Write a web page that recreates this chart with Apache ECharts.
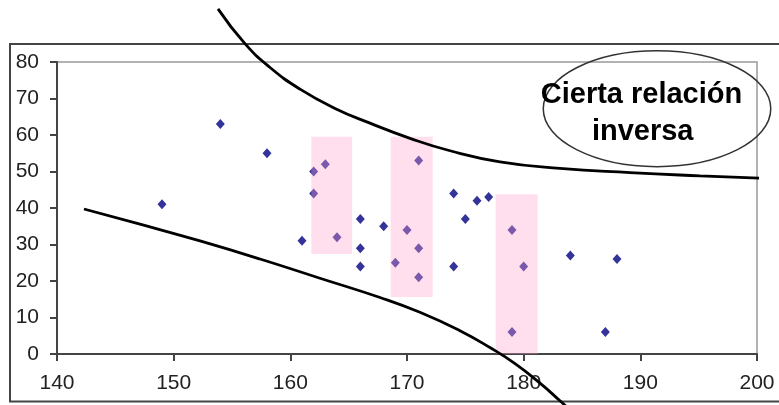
<!DOCTYPE html>
<html>
<head>
<meta charset="utf-8">
<script src="https://cdn.jsdelivr.net/npm/echarts@6/dist/echarts.min.js"></script>
<style>
html,body{margin:0;padding:0;background:#fff;}
#chart{width:779px;height:405px;}
</style>
</head>
<body>
<div id="chart"></div>
<script>
// Scatter data
var xValues = [149,154,158,161,162,162,163,164,166,166,166,168,169,170,171,171,171,174,174,175,176,177,179,179,180,184,187,188];
var yValues = [41,63,55,31,50,44,52,32,37,29,24,35,25,34,53,29,21,44,24,37,42,43,34,6,24,27,6,26];

// Highlight rectangles [xFrom, xTo, yFrom, yTo]
var rectX1 = [161.8, 168.6, 177.6];
var rectX2 = [165.3, 172.2, 181.2];
var rectY1 = [27.4, 15.6, 0];
var rectY2 = [59.5, 59.5, 43.8];

// Hand-drawn curves (data coordinates)
var upperCurveX = [153.80,156.11,158.26,160.83,163.83,166.83,170.26,173.69,177.97,183.11,189.11,195.11,201.37];
var upperCurveY = [94.55,85.02,78.49,72.56,67.29,63.25,59.08,55.68,52.66,50.84,49.69,48.81,48.02];
var lowerCurveX = [142.31,147.11,152.26,157.40,162.54,167.69,171.11,174.54,177.11,179.26,181.40,183.11,184.83];
var lowerCurveY = [39.73,35.58,30.97,26.03,20.76,15.48,11.42,6.37,1.76,-2.64,-7.99,-12.82,-17.87];

// Axis ticks
var xTicks = [140,150,160,170,180,190,200];
var yTicks = [0,10,20,30,40,50,60,70,80];

// Annotation
var noteLines = ['Cierta relación', 'inversa'];
var noteCenter = [191.43, 67.2];
var noteRadius = [9.75, 15.87];
var noteLineX = [190.1, 190.2];
var noteLineY = [70.9, 60.8];

var chart = echarts.init(document.getElementById('chart'));

var scatterData = xValues.map(function(x, i){ return [x, yValues[i]]; });
var rectData = rectX1.map(function(x, i){ return [x, rectX2[i], rectY1[i], rectY2[i]]; });
var upperData = upperCurveX.map(function(x, i){ return [x, upperCurveY[i]]; });
var lowerData = lowerCurveX.map(function(x, i){ return [x, lowerCurveY[i]]; });

var labelFont = {fontFamily: 'Liberation Sans, Arial, sans-serif', fontSize: 21, color: '#222'};

chart.setOption({
  animation: false,
  backgroundColor: '#fff',
  grid: {left: 57, top: 62, right: 22, bottom: 51, show: true, borderColor: '#999', borderWidth: 1.5, containLabel: false},
  xAxis: {
    type: 'value', min: xTicks[0], max: xTicks[xTicks.length-1], interval: 10,
    axisLine: {show: true, onZero: false, lineStyle: {color: '#444', width: 2}},
    axisTick: {show: true, inside: false, length: 7, lineStyle: {color: '#444', width: 2}},
    axisLabel: Object.assign({margin: 19}, labelFont),
    splitLine: {show: false}
  },
  yAxis: {
    type: 'value', min: yTicks[0], max: yTicks[yTicks.length-1], interval: 10,
    axisLine: {show: true, onZero: false, lineStyle: {color: '#444', width: 2}},
    axisTick: {show: true, inside: false, length: 7, lineStyle: {color: '#444', width: 2}},
    axisLabel: Object.assign({margin: 18}, labelFont),
    splitLine: {show: false}
  },
  series: [
    {
      type: 'scatter', data: scatterData, symbol: 'diamond', symbolSize: [9, 10],
      itemStyle: {color: '#000080'}, z: 2
    },
    {
      type: 'custom', data: rectData, z: 3, silent: true,
      renderItem: function(params, api){
        var p1 = api.coord([api.value(0), api.value(3)]);
        var p2 = api.coord([api.value(1), api.value(2)]);
        return {type: 'rect', shape: {x: p1[0], y: p1[1], width: p2[0]-p1[0], height: p2[1]-p1[1]},
          style: {fill: 'rgba(255,161,206,0.35)'}};
      },
      encode: {x: [0, 1], y: [2, 3]}
    },
    {
      type: 'line', data: upperData, smooth: 0.5, clip: false, symbol: 'none', z: 4,
      lineStyle: {color: '#000', width: 2.8}
    },
    {
      type: 'line', data: lowerData, smooth: 0.5, clip: false, symbol: 'none', z: 4,
      lineStyle: {color: '#000', width: 2.8}
    }
  ]
});

var c = chart.convertToPixel({gridIndex: 0}, noteCenter);
var e = chart.convertToPixel({gridIndex: 0}, [noteCenter[0] + noteRadius[0], noteCenter[1] + noteRadius[1]]);
var t1 = chart.convertToPixel({gridIndex: 0}, [noteLineX[0], noteLineY[0]]);
var t2 = chart.convertToPixel({gridIndex: 0}, [noteLineX[1], noteLineY[1]]);
var noteFont = {fontFamily: 'Liberation Sans, Arial, sans-serif', fontSize: 29, fontWeight: 'bold', fill: '#000', align: 'center', verticalAlign: 'middle'};

chart.setOption({
  graphic: [
    {type: 'rect', shape: {x: 10, y: 44, width: 800, height: 357.5}, style: {fill: 'none', stroke: '#444', lineWidth: 2}, z: 0, silent: true},
    {type: 'ellipse', shape: {cx: c[0], cy: c[1], rx: e[0]-c[0], ry: c[1]-e[1]}, style: {fill: 'none', stroke: '#333', lineWidth: 1.5}, z: 10, silent: true},
    {type: 'text', x: t1[0], y: t1[1], style: Object.assign({text: noteLines[0]}, noteFont), z: 11, silent: true},
    {type: 'text', x: t2[0], y: t2[1], style: Object.assign({text: noteLines[1]}, noteFont), z: 11, silent: true}
  ]
});
</script>
</body>
</html>
